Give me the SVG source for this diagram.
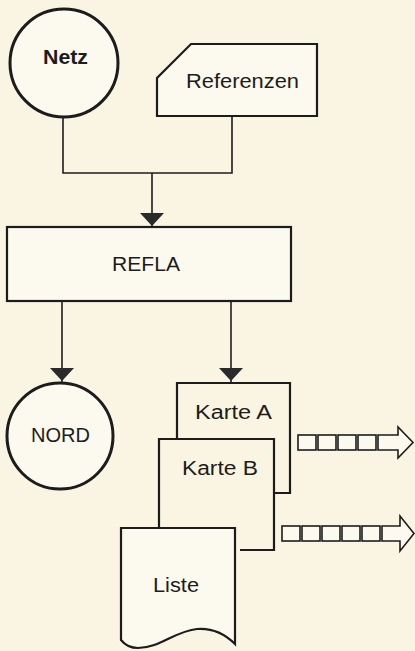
<svg xmlns="http://www.w3.org/2000/svg" width="415" height="651" viewBox="0 0 415 651">
<style>
.bg{fill:#FAF5E3}
.shape{fill:#FCF9EE;stroke:#1c1c1c;stroke-width:2.2;stroke-linejoin:miter}
.circ{fill:#FCF9EE;stroke:#1c1c1c;stroke-width:3}
.line{fill:none;stroke:#1c1c1c;stroke-width:1.6}
.open{fill:none;stroke:#1c1c1c;stroke-width:2.2}
.head{fill:#2a2a2a;stroke:none}
.blk{fill:#FCF9EE;stroke:#1c1c1c;stroke-width:1.6;stroke-linejoin:miter}
.lbl{font-family:"Liberation Sans",Arial,Helvetica,sans-serif;font-size:20px;fill:#1c1c1c;text-anchor:middle}
</style>
<rect class="bg" x="0" y="0" width="415" height="651"/>

<g id="connectors">
  <polyline class="line" points="63,117 63,173 232,173 232,116"/>
  <line class="line" x1="152" y1="173" x2="152" y2="226"/>
  <polygon class="head" points="140,213 164,213 152,226"/>
  <line class="line" x1="62" y1="301" x2="62" y2="382"/>
  <polygon class="head" points="50,368 74,368 62,381"/>
  <line class="line" x1="231" y1="301" x2="231" y2="382"/>
  <polygon class="head" points="219,368 243,368 231,381"/>
</g>

<g id="netz">
  <circle class="circ" cx="64" cy="63" r="54"/>
  <text class="lbl" x="65.5" y="64" font-weight="bold" fill="#333" textLength="45" lengthAdjust="spacingAndGlyphs">Netz</text>
</g>

<g id="referenzen">
  <path class="shape" d="M191,44 H317 V116 H157 V78 Z"/>
  <text class="lbl" x="242.5" y="88" textLength="113" lengthAdjust="spacingAndGlyphs">Referenzen</text>
</g>

<g id="refla">
  <rect class="shape" x="7" y="227" width="284" height="74"/>
  <text class="lbl" x="146" y="271" textLength="68" lengthAdjust="spacingAndGlyphs">REFLA</text>
</g>

<g id="nord">
  <circle class="circ" cx="60" cy="436" r="53" stroke-width="3.5"/>
  <text class="lbl" x="60.5" y="442" textLength="59" lengthAdjust="spacingAndGlyphs">NORD</text>
</g>

<g id="karte-a">
  <path class="open" d="M177,438 V383 H290 V493 H274"/>
  <text class="lbl" x="233.5" y="419" textLength="77" lengthAdjust="spacingAndGlyphs">Karte A</text>
</g>

<g id="karte-b">
  <path class="open" d="M159,528 V439 H274 V550 H240"/>
  <text class="lbl" x="220" y="475" textLength="76" lengthAdjust="spacingAndGlyphs">Karte B</text>
</g>

<g id="liste">
  <path class="shape" d="M121,528 H235 V644 C224,633 211,628 197,629 C175,631 160,648 138,648 C130,648 125,645 121,640 Z"/>
  <text class="lbl" x="176" y="592" textLength="46" lengthAdjust="spacingAndGlyphs">Liste</text>
</g>

<g id="ausgabe-a">
  <rect class="blk" x="298" y="435" width="18" height="15"/>
  <rect class="blk" x="318" y="435" width="18" height="15"/>
  <rect class="blk" x="338" y="435" width="18" height="15"/>
  <rect class="blk" x="358" y="435" width="18" height="15"/>
  <path class="blk" d="M378,435 H398 V427 L413,442.5 L398,458 V450 H378 Z"/>
</g>

<g id="ausgabe-b">
  <rect class="blk" x="282" y="526" width="18" height="15"/>
  <rect class="blk" x="302" y="526" width="18" height="15"/>
  <rect class="blk" x="322" y="526" width="18" height="15"/>
  <rect class="blk" x="342" y="526" width="18" height="15"/>
  <rect class="blk" x="362" y="526" width="18" height="15"/>
  <path class="blk" d="M382,526 H400 V516 L414,533.5 L400,551 V541 H382 Z"/>
</g>
</svg>
